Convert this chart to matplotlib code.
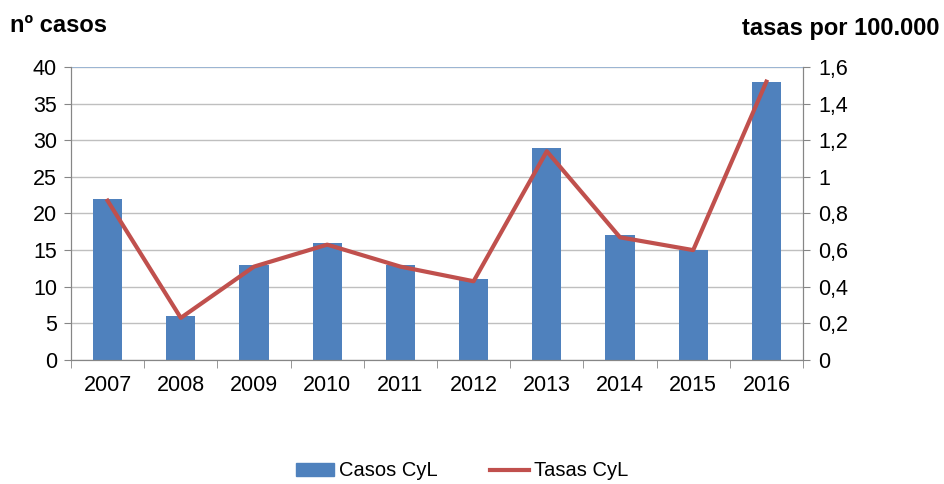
import matplotlib.pyplot as plt
from matplotlib.patches import Patch
from matplotlib.lines import Line2D
import numpy as np

years = ["2007", "2008", "2009", "2010", "2011", "2012", "2013", "2014", "2015", "2016"]
casos = [22, 6, 13, 16, 13, 11, 29, 17, 15, 38]
tasas = [0.87, 0.23, 0.51, 0.63, 0.51, 0.43, 1.14, 0.67, 0.60, 1.52]

bar_color = "#4F81BD"
line_color = "#C0504D"
axis_color = "#868686"
grid_color = "#BFBFBF"

plt.rcParams.update({"font.family": "Liberation Sans", "font.size": 15.5})

fig = plt.figure(figsize=(9.44, 4.84), dpi=100)
ax = fig.add_axes([71 / 944, 1 - 360 / 484, (803 - 71) / 944, (360 - 67) / 484])
ax2 = ax.twinx()

x = np.arange(len(years))
ax.bar(x, casos, width=0.4, color=bar_color, zorder=2)
ax2.plot(x, tasas, color=line_color, lw=3, zorder=3)

ax.set_xlim(-0.5, len(years) - 0.5)
ax.set_ylim(0, 40)
ax.set_yticks(range(0, 41, 5))
ax2.set_ylim(0, 1.6)
ax2.set_yticks(np.arange(0, 1.61, 0.2))
ax2.set_yticklabels(["0", "0,2", "0,4", "0,6", "0,8", "1", "1,2", "1,4", "1,6"])

ax.set_xticks(x)
ax.set_xticklabels(years)
ax.set_xticks(np.arange(-0.5, len(years), 1), minor=True)
ax.tick_params(axis="x", which="major", length=0, pad=11)
ax.tick_params(axis="x", which="minor", length=6, color=axis_color)
ax.tick_params(axis="y", length=5, color=axis_color, pad=5)
ax2.tick_params(axis="y", length=5, color=axis_color, pad=6)

ax.yaxis.grid(True, color=grid_color, lw=1)
ax.set_axisbelow(True)
for a in (ax, ax2):
    for side in ("left", "right", "bottom"):
        a.spines[side].set_color(axis_color)
    a.spines["top"].set_visible(False)
ax.axhline(40, color="#95B3D7", lw=1.2, zorder=1)

fig.text(10 / 944, 1 - 25 / 484, "nº casos", fontsize=17, fontweight="bold", va="center", ha="left")
fig.text(940 / 944, 1 - 28 / 484, "tasas por 100.000", fontsize=17, fontweight="bold", va="center", ha="right")

handles = [
    Patch(color=bar_color, label="Casos CyL"),
    Line2D([], [], color=line_color, lw=3, label="Tasas CyL"),
]
fig.legend(handles=handles, loc="center", bbox_to_anchor=(462 / 944, 1 - 471 / 484), ncol=2,
           frameon=False, fontsize=14.5, handlelength=1.9, handleheight=0.6,
           handletextpad=0.25, columnspacing=2.6)

fig.savefig("out.png", dpi=100)
